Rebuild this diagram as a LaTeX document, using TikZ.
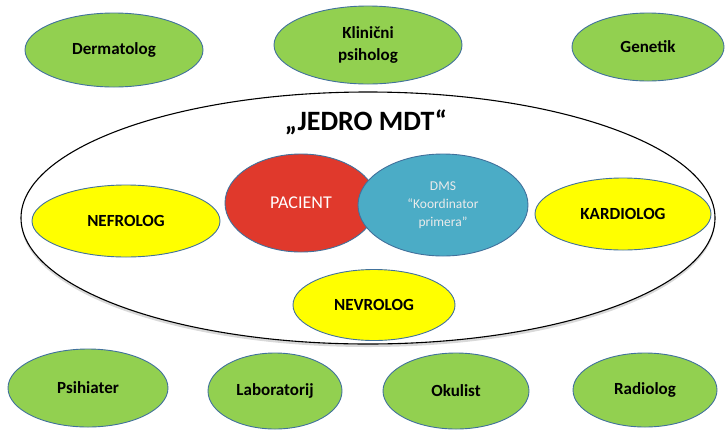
\documentclass[tikz,border=0pt]{standalone}
\usepackage{fontspec}
\setmainfont{Carlito}
\usetikzlibrary{shapes.geometric,shadows}
\definecolor{grn}{HTML}{92D050}
\definecolor{edge}{HTML}{41719C}
\definecolor{ylw}{HTML}{FFFF00}
\definecolor{redp}{HTML}{E0392C}
\definecolor{bluep}{HTML}{4BACC6}
\tikzset{
  oval/.style={ellipse, draw=edge, line width=0.9pt, inner sep=0pt, align=center},
  outer/.style={oval, fill=grn, font=\fontsize{17}{22}\selectfont\bfseries},
  core/.style={oval, fill=ylw, font=\fontsize{17}{20}\selectfont\bfseries},
}
\begin{document}
\begin{tikzpicture}[x=1pt,y=-1pt]
\useasboundingbox (0,0) rectangle (725,429);
% big ellipse
\node[ellipse, draw=black, line width=1.1pt, fill=white, minimum width=694pt, minimum height=252pt, inner sep=0pt,
  drop shadow={shadow xshift=0pt, shadow yshift=-3pt, opacity=0.3, fill=black!50}] (jedro) at (368,218) {};
\node[font=\fontsize{28}{30}\selectfont\bfseries] (title) at (366,122) {„JEDRO MDT“};
% outer specialists
\node[outer, minimum width=178pt, minimum height=74pt] (derm) at (114,50) {Dermatolog};
\node[outer, minimum width=188pt, minimum height=78pt] (klin) at (368,45) {Klinični\\psiholog};
\node[outer, minimum width=152pt, minimum height=68pt] (gen) at (648,47) {Genetik};
\node[outer, minimum width=160pt, minimum height=78pt] (psih) at (88,388) {Psihiater};
\node[outer, minimum width=134pt, minimum height=76pt] (lab) at (275,391) {Laboratorij};
\node[outer, minimum width=146pt, minimum height=76pt] (oku) at (456,391) {Okulist};
\node[outer, minimum width=144pt, minimum height=74pt] (rad) at (645,390) {Radiolog};
% core
\node[core, minimum width=188pt, minimum height=72pt] (nef) at (126,221) {NEFROLOG};
\node[core, minimum width=176pt, minimum height=72pt] (kar) at (623,214) {KARDIOLOG};
\node[core, minimum width=162pt, minimum height=71pt] (nev) at (374,305) {NEVROLOG};
\node[oval, fill=redp, text=white, minimum width=152pt, minimum height=98pt,
  font=\fontsize{18}{20}\selectfont] (pac) at (301,203) {PACIENT};
\node[oval, fill=bluep, text=white!92!black, minimum width=170pt, minimum height=102pt,
  font=\fontsize{13.5}{18}\selectfont] (dms) at (443,205) {DMS\\“Koordinator\\primera”};
\end{tikzpicture}
\end{document}
